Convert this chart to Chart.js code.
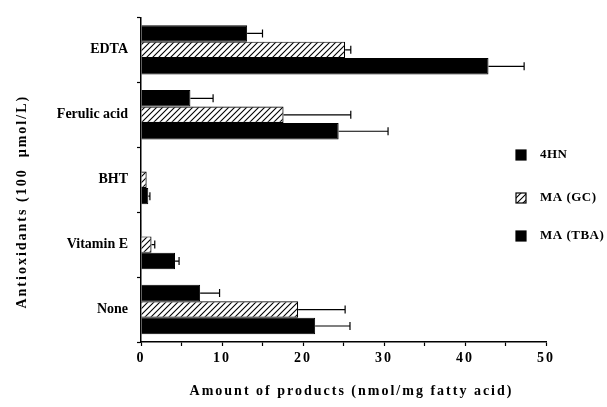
<!DOCTYPE html>
<html>
<head>
<meta charset="utf-8">
<script src="https://cdn.jsdelivr.net/npm/chart.js@4.4.1/dist/chart.umd.min.js"></script>
<style>
  html, body { margin: 0; padding: 0; background: #fff; }
  #wrap { width: 607px; height: 407px; position: relative; }
</style>
</head>
<body>
<div id="wrap"><canvas id="c" width="607" height="407"></canvas></div>
<script>
const categories = ['EDTA', 'Ferulic acid', 'BHT', 'Vitamin E', 'None'];
const seriesLabels = ['4HN', 'MA (GC)', 'MA (TBA)'];
const values4HN = [13.1, 6.1, 0, 0.1, 7.3];
const err4HN    = [1.9, 2.8, 0, 0, 2.4];
const valuesGC  = [25.2, 17.6, 0.7, 1.3, 19.4];
const errGC     = [0.7, 8.3, 0, 0.4, 5.8];
const valuesTBA = [42.9, 24.4, 0.9, 4.2, 21.5];
const errTBA    = [4.4, 6.1, 0.2, 0.5, 4.3];
const xTickLabels = ['0', '10', '20', '30', '40', '50'];
const xTitle = 'Amount of products (nmol/mg fatty acid)';
const yTitle = 'Antioxidants (100  \u00B5mol/L)';

const SERIF = '"Liberation Serif", "DejaVu Serif", serif';

function makeHatch() {
  const s = 6;
  const pc = document.createElement('canvas');
  pc.width = s; pc.height = s;
  const p = pc.getContext('2d');
  p.fillStyle = '#fff';
  p.fillRect(0, 0, s, s);
  p.strokeStyle = '#000';
  p.lineWidth = 1.1;
  p.beginPath();
  p.moveTo(0, s); p.lineTo(s, 0);
  p.moveTo(-1, 1); p.lineTo(1, -1);
  p.moveTo(s - 1, s + 1); p.lineTo(s + 1, s - 1);
  p.stroke();
  return document.getElementById('c').getContext('2d').createPattern(pc, 'repeat');
}
const hatch = makeHatch();

const errors = [err4HN, errGC, errTBA];

const errorBarPlugin = {
  id: 'errorBars',
  afterDatasetsDraw(chart) {
    const ctx = chart.ctx;
    const xs = chart.scales.x;
    ctx.save();
    ctx.strokeStyle = '#000';
    ctx.lineWidth = 1.2;
    chart.data.datasets.forEach((ds, di) => {
      const meta = chart.getDatasetMeta(di);
      meta.data.forEach((el, i) => {
        const e = errors[di][i];
        if (!e) return;
        const x0 = el.x;
        const x1 = xs.getPixelForValue(ds.data[i] + e);
        const y = el.y;
        ctx.beginPath();
        ctx.moveTo(x0, y); ctx.lineTo(x1, y);
        ctx.moveTo(x1, y - 4); ctx.lineTo(x1, y + 4);
        ctx.stroke();
      });
    });
    ctx.restore();
  }
};

const spacingPlugin = {
  id: 'spacing',
  beforeDraw(chart) {
    const s = chart.scales.x;
    if (!s._spaced) {
      const orig = s.drawLabels.bind(s);
      s.drawLabels = function (ca) {
        const ctx = this.ctx;
        ctx.save();
        ctx.letterSpacing = '2px';
        orig(ca);
        ctx.restore();
      };
      s._spaced = true;
    }
  }
};

const textPlugin = {
  id: 'texts',
  afterDraw(chart) {
    const ctx = chart.ctx;
    const ca = chart.chartArea;
    ctx.save();
    ctx.fillStyle = '#000';
    ctx.font = 'bold 14px ' + SERIF;
    ctx.letterSpacing = '2px';
    ctx.textAlign = 'center';
    ctx.textBaseline = 'middle';
    ctx.fillText(xTitle, (ca.left + ca.right) / 2 + 8, 391);
    ctx.translate(22, (ca.top + ca.bottom) / 2 + 22);
    ctx.rotate(-Math.PI / 2);
    ctx.fillText(yTitle, 0, 0);
    ctx.restore();

    // legend
    ctx.save();
    ctx.font = 'bold 13px ' + SERIF;
    ctx.letterSpacing = '0.5px';
    ctx.textBaseline = 'middle';
    ctx.textAlign = 'left';
    const ly = [155, 198, 236];
    chart.data.datasets.forEach((ds, di) => {
      const y = ly[di];
      ctx.fillStyle = ds.backgroundColor;
      ctx.fillRect(516, y - 5, 10, 10);
      ctx.strokeStyle = '#000';
      ctx.lineWidth = 1.2;
      ctx.strokeRect(516, y - 5, 10, 10);
      ctx.fillStyle = '#000';
      ctx.fillText(ds.label, 540, y);
    });
    ctx.restore();
  }
};

const chart = new Chart(document.getElementById('c'), {
  type: 'bar',
  data: {
    labels: categories,
    datasets: [
      { label: seriesLabels[0], data: values4HN, backgroundColor: '#000', borderColor: '#000', borderWidth: 1 },
      { label: seriesLabels[1], data: valuesGC, backgroundColor: hatch, borderColor: '#000', borderWidth: 1.2 },
      { label: seriesLabels[2], data: valuesTBA, backgroundColor: '#000', borderColor: '#000', borderWidth: 1 }
    ]
  },
  options: {
    indexAxis: 'y',
    responsive: false,
    animation: false,
    devicePixelRatio: 1,
    layout: { padding: { top: 12, right: 61, left: 0, bottom: 0 } },
    datasets: { bar: { categoryPercentage: 0.76, barPercentage: 1.0 } },
    plugins: { legend: { display: false }, tooltip: { enabled: false } },
    scales: {
      x: {
        min: 0, max: 50,
        afterFit(s) { s.height = 65; },
        border: { color: '#000', width: 1.5 },
        grid: { display: true, drawOnChartArea: false, color: '#000', tickLength: 4, tickWidth: 1.2 },
        ticks: {
          stepSize: 5,
          color: '#000',
          padding: 4,
          maxRotation: 0,
          autoSkip: false,
          font: { family: SERIF, size: 14, weight: 'bold' },
          callback: (v) => (v % 10 === 0 ? xTickLabels[v / 10] : '')
        }
      },
      y: {
        afterFit(s) { s.width = 141; },
        border: { color: '#000', width: 1.5 },
        grid: { display: true, drawOnChartArea: false, offset: true, color: '#000', tickLength: 4, tickWidth: 1.2 },
        ticks: {
          color: '#000',
          padding: 9,
          font: { family: SERIF, size: 14, weight: 'bold' }
        }
      }
    }
  },
  plugins: [errorBarPlugin, spacingPlugin, textPlugin]
});
</script>
</body>
</html>
